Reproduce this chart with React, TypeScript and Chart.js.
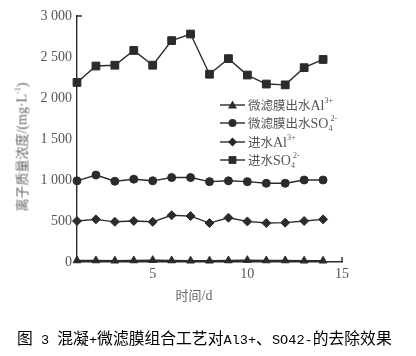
import React, { useEffect, useRef } from "react";
import { Chart, registerables } from "chart.js";

Chart.register(...registerables);

const days = [1, 2, 3, 4, 5, 6, 7, 8, 9, 10, 11, 12, 13, 14];
const outAl = [18, 18, 15, 18, 22, 18, 15, 15, 18, 22, 18, 18, 15, 15];
const outSO4 = [990, 1060, 985, 1010, 990, 1030, 1030, 980, 990, 980, 960, 960, 1000, 1000];
const inAl = [500, 520, 490, 500, 490, 570, 560, 475, 540, 495, 475, 480, 500, 520];
const inSO4 = [2190, 2390, 2400, 2580, 2400, 2700, 2780, 2290, 2480, 2280, 2170, 2160, 2370, 2470];
const yTicks = [0, 500, 1000, 1500, 2000, 2500, 3000];
const xTicks = [5, 10, 15];

type Seg = { t: string; k: "cjk" | "lat" | "sup" | "subsup"; s?: string };
const legendItems: { segs: Seg[]; style: string; radius: number }[] = [
  { segs: [{ t: "微滤膜出水", k: "cjk" }, { t: "Al", k: "lat" }, { t: "3+", k: "sup" }], style: "triangle", radius: 4.5 },
  { segs: [{ t: "微滤膜出水", k: "cjk" }, { t: "SO", k: "lat" }, { t: "4", k: "subsup", s: "2-" }], style: "circle", radius: 4 },
  { segs: [{ t: "进水", k: "cjk" }, { t: "Al", k: "lat" }, { t: "3+", k: "sup" }], style: "rectRot", radius: 4.5 },
  { segs: [{ t: "进水", k: "cjk" }, { t: "SO", k: "lat" }, { t: "4", k: "subsup", s: "2-" }], style: "rect", radius: 5.5 },
];

const INK = "#2b2b2b";
const TXT = "#555555";

function marker(ctx: CanvasRenderingContext2D, style: string, r: number, x: number, y: number) {
  ctx.beginPath();
  if (style === "circle") {
    ctx.arc(x, y, r, 0, Math.PI * 2);
  } else if (style === "rect") {
    const s = r * Math.SQRT1_2;
    ctx.rect(x - s, y - s, 2 * s, 2 * s);
  } else if (style === "rectRot") {
    ctx.moveTo(x, y - r);
    ctx.lineTo(x + r, y);
    ctx.lineTo(x, y + r);
    ctx.lineTo(x - r, y);
    ctx.closePath();
  } else {
    const h = r * 1.5;
    ctx.moveTo(x, y - r);
    ctx.lineTo(x + r * 0.866 * 1.15, y + h / 2);
    ctx.lineTo(x - r * 0.866 * 1.15, y + h / 2);
    ctx.closePath();
  }
  ctx.fill();
}

const legendPlugin = {
  id: "customLegend",
  afterDraw(chart: any) {
    const ctx = chart.ctx as CanvasRenderingContext2D;
    const x0 = 220;
    const ys = [105, 123, 142, 160];
    ctx.save();
    legendItems.forEach((it, i) => {
      const y = ys[i];
      ctx.strokeStyle = INK;
      ctx.lineWidth = 1.4;
      ctx.beginPath();
      ctx.moveTo(x0, y);
      ctx.lineTo(x0 + 25, y);
      ctx.stroke();
      ctx.fillStyle = INK;
      marker(ctx, it.style, it.radius, x0 + 12.5, y);
      let x = x0 + 28;
      ctx.textBaseline = "middle";
      ctx.fillStyle = TXT;
      it.segs.forEach((sg) => {
        if (sg.k === "cjk") {
          ctx.font = "12.5px 'Noto Sans CJK SC'";
          ctx.fillText(sg.t, x, y);
          x += ctx.measureText(sg.t).width;
        } else if (sg.k === "lat") {
          ctx.font = "14px 'Liberation Serif'";
          ctx.fillText(sg.t, x, y + 1);
          x += ctx.measureText(sg.t).width;
        } else if (sg.k === "sup") {
          ctx.font = "8px 'Liberation Serif'";
          ctx.fillText(sg.t, x, y - 4);
          x += ctx.measureText(sg.t).width;
        } else {
          ctx.font = "8px 'Liberation Serif'";
          ctx.fillText(sg.t, x, y + 6);
          ctx.fillText(sg.s || "", x + 2, y - 4);
        }
      });
    });
    ctx.restore();
  },
};

const hooksPlugin = {
  id: "axisHooks",
  afterDraw(chart: any) {
    const ctx = chart.ctx as CanvasRenderingContext2D;
    const xs = chart.scales.x;
    const ys = chart.scales.y;
    const left = xs.getPixelForValue(1);
    const bottom = ys.getPixelForValue(0);
    const top = ys.getPixelForValue(3000);
    const right = xs.getPixelForValue(15);
    ctx.save();
    ctx.strokeStyle = INK;
    ctx.lineWidth = 1.4;
    ctx.beginPath();
    ctx.moveTo(left, top);
    ctx.lineTo(left + 5, top);
    ctx.moveTo(right, bottom);
    ctx.lineTo(right, bottom - 5);
    ctx.stroke();
    ctx.restore();
  },
};

function fmt(v: number): string {
  if (v >= 1000) return `${Math.floor(v / 1000)} ${String(v % 1000).padStart(3, "0")}`;
  return String(v);
}

export default function App() {
  const ref = useRef<HTMLCanvasElement>(null);
  useEffect(() => {
    if (!ref.current) return;
    const mk = (vals: number[], style: string, radius: number) => ({
      data: days.map((d, i) => ({ x: d, y: vals[i] })),
      borderColor: INK,
      backgroundColor: INK,
      borderWidth: 1.4,
      pointStyle: style,
      pointRadius: radius,
      pointBorderWidth: 1,
      pointBackgroundColor: INK,
      pointBorderColor: INK,
      tension: 0,
      clip: false,
    });
    const chart = new Chart(ref.current, {
      type: "line",
      data: {
        datasets: [
          mk(outAl, "triangle", 4.5),
          mk(outSO4, "circle", 4),
          mk(inAl, "rectRot", 4.5),
          mk(inSO4, "rect", 5.5),
        ] as any,
      },
      options: {
        animation: false,
        responsive: false,
        devicePixelRatio: 1,
        layout: { padding: { left: 0, top: 16, right: 74, bottom: 74 } },
        plugins: { legend: { display: false }, tooltip: { enabled: false }, title: { display: false } },
        scales: {
          x: {
            type: "linear",
            min: 1,
            max: 15,
            afterBuildTicks: (s: any) => {
              s.ticks = xTicks.map((v) => ({ value: v }));
            },
            afterFit: (s: any) => {
              s.height = 20;
            },
            grid: { display: false, drawTicks: false },
            border: { display: true, color: INK, width: 1.4 },
            ticks: {
              color: TXT,
              font: { family: "'Liberation Serif'", size: 14 },
              padding: 4,
              maxRotation: 0,
            },
          },
          y: {
            type: "linear",
            min: 0,
            max: 3000,
            afterBuildTicks: (s: any) => {
              s.ticks = yTicks.map((v) => ({ value: v }));
            },
            afterFit: (s: any) => {
              s.width = 77;
            },
            grid: { display: false, drawTicks: false },
            border: { display: true, color: INK, width: 1.4 },
            ticks: {
              color: TXT,
              font: { family: "'Liberation Serif'", size: 14 },
              padding: 5,
              callback: (v: any) => fmt(Number(v)),
            },
          },
        },
      },
      plugins: [legendPlugin, hooksPlugin],
    });
    return () => chart.destroy();
  }, []);

  const cjk = "'Noto Sans CJK SC'";
  const mono = { fontFamily: "'Liberation Mono'", fontSize: "13.6px" };
  return (
    <div style={{ position: "absolute", left: 0, top: 0, width: 416, height: 356, background: "#fff", overflow: "hidden" }}>
      <canvas ref={ref} width={416} height={356} style={{ position: "absolute", left: 0, top: 0, width: 416, height: 356 }} />
      <div
        style={{
          position: "absolute",
          left: 22,
          top: 147,
          transform: "translate(-50%, -50%) rotate(-90deg)",
          whiteSpace: "nowrap",
          fontFamily: cjk,
          fontSize: "13px",
          color: "#666",
          lineHeight: 1,
        }}
      >
        离子质量浓度<span style={{ fontFamily: "'Liberation Serif'", fontSize: "14px" }}>/(mg·L<sup style={{ fontSize: "8px" }}>-1</sup>)</span>
      </div>
      <div
        style={{
          position: "absolute",
          left: 194,
          top: 295,
          transform: "translate(-50%, -50%)",
          whiteSpace: "nowrap",
          fontFamily: cjk,
          fontSize: "13px",
          color: "#666",
          lineHeight: 1,
        }}
      >
        时间<span style={{ fontFamily: "'Liberation Serif'", fontSize: "14px" }}>/d</span>
      </div>
      <div
        style={{
          position: "absolute",
          left: 17,
          top: 339,
          transform: "translateY(-50%)",
          whiteSpace: "pre",
          fontFamily: cjk,
          fontSize: "15.8px",
          color: "#000",
          lineHeight: 1,
        }}
      >
        图<span style={mono}> 3 </span>混凝<span style={mono}>+</span>微滤膜组合工艺对<span style={mono}>Al3+</span>、<span style={mono}>SO42-</span>的去除效果
      </div>
    </div>
  );
}
